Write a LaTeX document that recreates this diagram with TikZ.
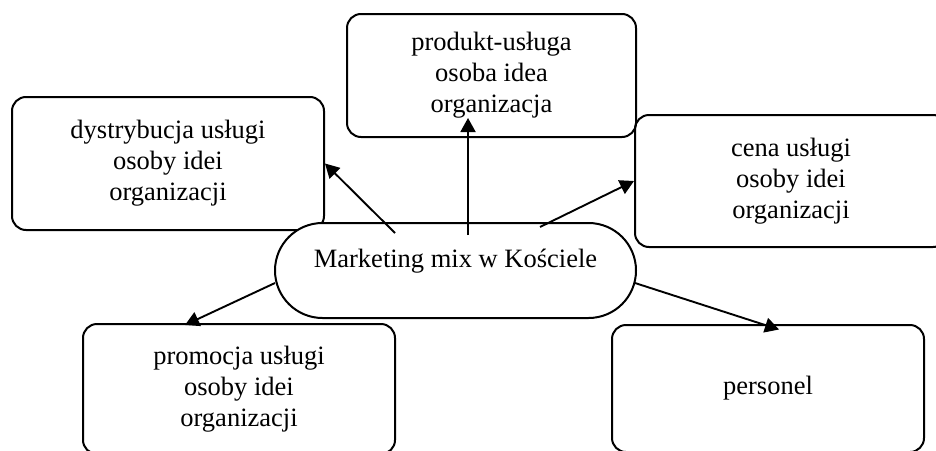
\documentclass[tikz,border=0pt]{standalone}
\usepackage{fontspec}
\setmainfont{Liberation Serif}
\usetikzlibrary{shapes.misc,arrows.meta}
\begin{document}
\begin{tikzpicture}[x=1pt,y=-1pt,
  every node/.style={font=\fontsize{26.5}{31}\selectfont, inner sep=0pt},
  card/.style={draw, line width=2pt, rounded corners=14pt, align=center, minimum width=312pt},
  hub/.style={draw, fill=white, line width=2pt, rounded rectangle, minimum width=361pt, minimum height=95pt},
  link/.style={line width=1.9pt, -{Triangle[length=14pt,width=15pt]}}]

% page frame
\useasboundingbox (0,0) rectangle (936,450);
\fill[white] (0,0) rectangle (936,450);

% the five areas of the mix
\node[card, minimum height=133pt] (dys) at (168,163.5) {dystrybucja usługi\\osoby idei\\organizacji};
\node[card, minimum width=289pt, minimum height=123pt] (prod) at (491.5,75.5) {produkt-usługa\\osoba idea\\organizacja};
\node[card, minimum height=132pt] (cena) at (791,181) {cena usługi\\osoby idei\\organizacji};
\node[card, minimum height=130pt] (promo) at (239,389) {promocja usługi\\osoby idei\\organizacji};
\node[card, minimum height=127pt] (pers) at (768,388.5) {personel};

% central stadium
\node[hub] (mm) at (455.5,270.5) {};
\node (mmtext) at ([shift={(0,-9)}]mm.center) {Marketing mix w Kościele};

% arrows from the centre outwards
\draw[link] ([shift={(-60.5,-37.5)}]mm.center) -- (dys.east);
\draw[link] ([shift={(12.5,-35.5)}]mm.center) -- ([shift={(-23.5,-20)}]prod.south);
\draw[link] ([shift={(84.5,-43.5)}]mm.center) -- (cena.west);
\draw[link] ([shift={(-180.5,12.5)}]mm.center) -- ([shift={(-54,2)}]promo.north);
\draw[link] ([shift={(179.5,12.5)}]mm.center) -- ([shift={(11,5.5)}]pers.north);
\end{tikzpicture}
\end{document}
